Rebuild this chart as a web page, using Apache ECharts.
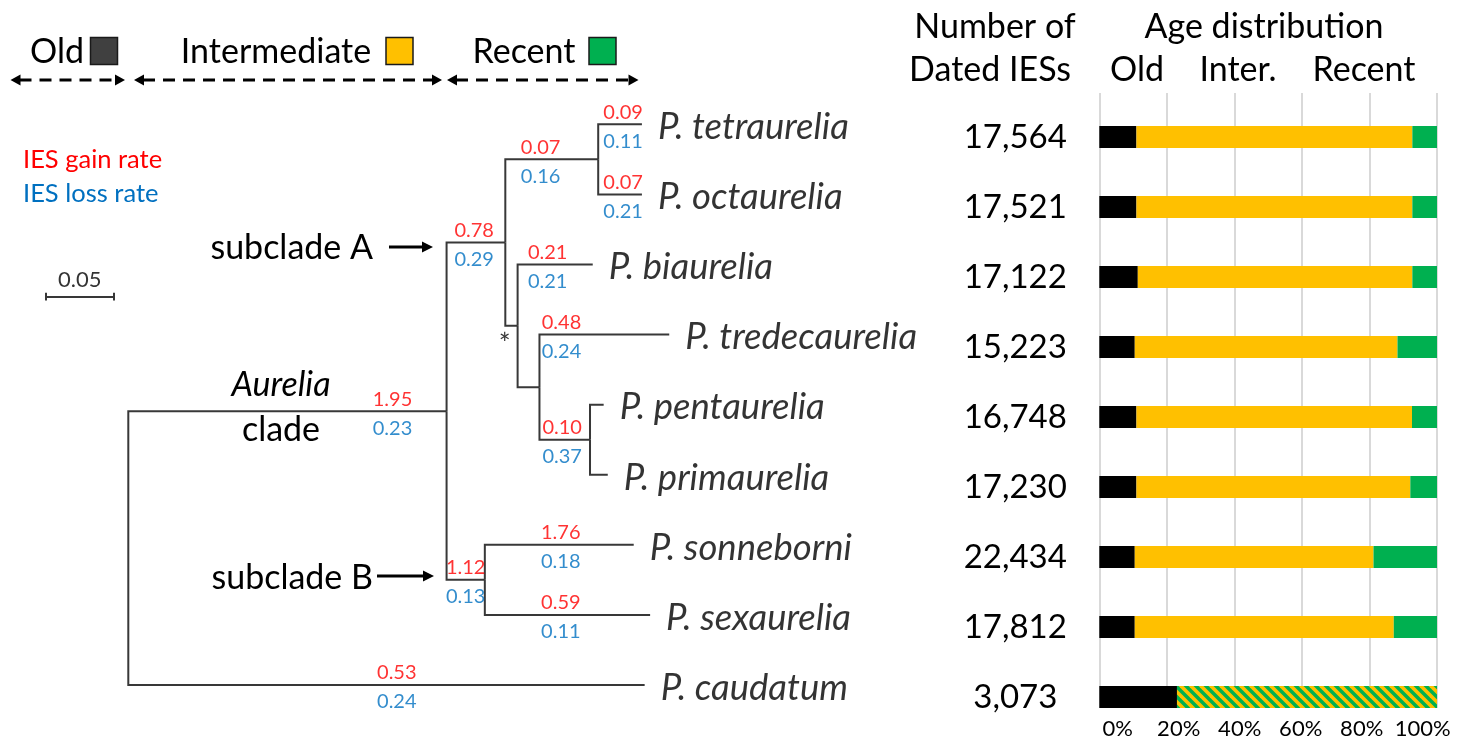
<!DOCTYPE html>
<html><head><meta charset="utf-8">
<script src="https://cdn.jsdelivr.net/npm/echarts@6.0.0/dist/echarts.min.js"></script>
<style>html,body{margin:0;padding:0;background:#fff}#c{width:1468px;height:740px}</style>
</head><body><div id="c"></div><script>
// ---------------- DATA ----------------
const speciesOrder = ['P. tetraurelia','P. octaurelia','P. biaurelia','P. tredecaurelia','P. pentaurelia','P. primaurelia','P. sonneborni','P. sexaurelia','P. caudatum'];
const datedIES = ['17,564','17,521','17,122','15,223','16,748','17,230','22,434','17,812','3,073'];
const oldPct    = [11.0, 11.0, 11.4, 10.5, 11.0, 11.0, 10.5, 10.5, 23.0];
const interPct  = [81.7, 81.7, 81.3, 77.8, 81.6, 81.1, 70.7, 76.7, 0];
const recentPct = [7.3, 7.3, 7.3, 11.7, 7.4, 7.9, 18.8, 12.8, 0];
const unresolvedPct = [0, 0, 0, 0, 0, 0, 0, 0, 77.0];
const pctTicks = ['0%','20%','40%','60%','80%','100%'];

const treeNodes  = ['root','Aurelia clade','subclade A','tetra+octa','P. tetraurelia','P. octaurelia','node *','P. biaurelia','tredec+penta+prim','P. tredecaurelia','penta+prim','P. pentaurelia','P. primaurelia','subclade B','P. sonneborni','P. sexaurelia','P. caudatum'];
const treeParent = [-1, 0, 1, 2, 3, 3, 2, 6, 6, 8, 8, 10, 10, 1, 13, 13, 0];
const branchLength = [0, 0.233, 0.043, 0.068, 0.032, 0.032, 0.009, 0.055, 0.016, 0.095, 0.037, 0.010, 0.013, 0.028, 0.109, 0.121, 0.378];
const gainRate = [null, 1.95, 0.78, 0.07, 0.09, 0.07, null, 0.21, null, 0.48, 0.10, null, null, 1.12, 1.76, 0.59, 0.53];
const lossRate = [null, 0.23, 0.29, 0.16, 0.11, 0.21, null, 0.21, null, 0.24, 0.37, null, null, 0.13, 0.18, 0.11, 0.24];
const scaleBarLength = 0.05;

// ---------------- LAYOUT (not data) ----------------
const labelAt = [0, 0.83, 0.47, 0.38, 0.57, 0.57, 0, 0.40, 0, 0.17, 0.45, 0, 0, 0.50, 0.51, 0.46, 0.52];
const PX_PER_UNIT = 1366, ROOT_X = 128.3, TREE_MIN = -0.09, TREE_MAX = 0.5;
const FONT = 'Lato, "Open Sans", sans-serif';
const RED = '#FF0000', BLUE = '#0070C0';

// ---------------- TREE GEOMETRY ----------------
const n = treeNodes.length;
const depth = new Array(n).fill(0);
for (let i = 1; i < n; i++) depth[i] = depth[treeParent[i]] + branchLength[i];
const children = treeNodes.map(() => []);
for (let i = 1; i < n; i++) children[treeParent[i]].push(i);
const ypos = new Array(n);
for (let i = n - 1; i >= 0; i--) {
  if (children[i].length === 0) ypos[i] = speciesOrder.indexOf(treeNodes[i]);
  else { const ys = children[i].map(c => ypos[c]); ypos[i] = (Math.min(...ys) + Math.max(...ys)) / 2; }
}
const branchLines = [];
for (let i = 1; i < n; i++) {
  const p = treeParent[i];
  branchLines.push({coords: [[depth[p], ypos[p]], [depth[p], ypos[i]], [depth[i], ypos[i]]]});
}
const gainPts = [], lossPts = [], leafPts = [];
for (let i = 1; i < n; i++) {
  const p = treeParent[i];
  const x = depth[p] + labelAt[i] * (depth[i] - depth[p]);
  if (gainRate[i] != null) gainPts.push({value: [x, ypos[i]], label: {formatter: gainRate[i].toFixed(2)}});
  if (lossRate[i] != null) lossPts.push({value: [x, ypos[i]], label: {formatter: lossRate[i].toFixed(2)}});
  if (children[i].length === 0) leafPts.push({value: [depth[i], ypos[i]], label: {formatter: treeNodes[i]}});
}
// scale bar
const sbX0 = -0.0605, sbY = 2.46, sbTick = 0.055;
const scaleLines = [
  {coords: [[sbX0, sbY], [sbX0 + scaleBarLength, sbY]]},
  {coords: [[sbX0, sbY - sbTick], [sbX0, sbY + sbTick]]},
  {coords: [[sbX0 + scaleBarLength, sbY - sbTick], [sbX0 + scaleBarLength, sbY + sbTick]]}
];

// ---------------- HATCH PATTERN ----------------
function makeHatch() {
  const c = document.createElement('canvas'); c.width = 10; c.height = 10;
  const g = c.getContext('2d');
  g.fillStyle = '#FFC000'; g.fillRect(0, 0, 10, 10);
  g.strokeStyle = '#00B050'; g.lineWidth = 3.5;
  for (const o of [-10, 0, 10]) { g.beginPath(); g.moveTo(o - 2, -2); g.lineTo(o + 12, 12); g.stroke(); }
  return c;
}

// ---------------- GRAPHICS ----------------
const G = [];
function txt(x, y, text, opt) {
  G.push({type: 'text', x: x, y: y, z: 10, style: Object.assign({text: text, fontSize: 34, fontFamily: FONT, fill: '#000',
    align: 'center', verticalAlign: 'middle', textAlign: 'center', textVerticalAlign: 'middle'}, opt || {})});
}
function sq(x, y, fill) {
  G.push({type: 'rect', shape: {x: x, y: y, width: 27, height: 27}, style: {fill: fill, stroke: '#1a1a1a', lineWidth: 1.5}});
}
function head(x, y, dir, len, half) {
  G.push({type: 'polygon', shape: {points: [[x, y], [x - dir * len, y - half], [x - dir * len, y + half]]}, style: {fill: '#000'}});
}
function dashArrow(x1, x2, y) {
  G.push({type: 'line', shape: {x1: x1 + 9, y1: y, x2: x2 - 9, y2: y}, style: {stroke: '#000', lineWidth: 3, lineDash: [12, 8]}});
  head(x1, y, -1, 10, 5.5); head(x2, y, 1, 10, 5.5);
}
function solidArrow(x1, x2, y) {
  G.push({type: 'line', shape: {x1: x1, y1: y, x2: x2 - 8, y2: y}, style: {stroke: '#000', lineWidth: 3}});
  head(x2, y, 1, 11, 5.5);
}
// top legend
txt(57, 52, 'Old'); sq(90.5, 37.5, '#404040');
txt(276, 52, 'Intermediate'); sq(386, 37.5, '#FFC000');
txt(524, 52, 'Recent'); sq(589, 37.5, '#00B050');
dashArrow(10.5, 125, 80); dashArrow(134, 442, 80); dashArrow(447, 638.5, 80);
// rate legend
txt(23, 160, 'IES gain rate', {fontSize: 25.5, fill: RED, align: 'left', textAlign: 'left'});
txt(23, 194, 'IES loss rate', {fontSize: 25.5, fill: BLUE, align: 'left', textAlign: 'left'});
// clade labels
txt(373, 248, 'subclade A', {align: 'right', textAlign: 'right'}); solidArrow(389, 433, 247);
txt(373, 578, 'subclade B', {align: 'right', textAlign: 'right'}); solidArrow(377, 434, 576);
txt(281, 385, 'Aurelia', {fontStyle: 'italic'});
txt(281, 430, 'clade');
// right headers
txt(995, 27, 'Number of'); txt(990, 70, 'Dated IESs');
txt(1264, 27, 'Age distribution');
txt(1137, 70, 'Old'); txt(1238, 70, 'Inter.'); txt(1364, 70, 'Recent');

// ---------------- CHART ----------------
const chart = echarts.init(document.getElementById('c'), null, {renderer: 'canvas', width: 1468, height: 740});
const hidden = {show: false};
const option = {
  backgroundColor: '#fff',
  animation: false,
  textStyle: {fontFamily: FONT},
  grid: [
    {left: 1099.3, top: 102, width: 337.7, height: 630},
    {left: 1099.3, top: 93, width: 337.7, height: 615},
    {left: 1117.7, top: 93, width: 305, height: 615},
    {left: ROOT_X + TREE_MIN * PX_PER_UNIT, top: 124.3, width: (TREE_MAX - TREE_MIN) * PX_PER_UNIT, height: 560.7}
  ],
  xAxis: [
    {gridIndex: 0, type: 'value', min: 0, max: 100, show: false},
    {gridIndex: 1, type: 'value', min: 0, max: 100, interval: 20, axisLine: hidden, axisTick: hidden, axisLabel: hidden,
      splitLine: {show: true, lineStyle: {color: '#D9D9D9', width: 2}}},
    {gridIndex: 2, type: 'value', min: 0, max: 100, interval: 20, axisLine: hidden, axisTick: hidden, splitLine: hidden,
      axisLabel: {show: true, margin: 11, fontSize: 22, color: '#000', fontFamily: FONT, formatter: (v, i) => pctTicks[i]}},
    {gridIndex: 3, type: 'value', min: TREE_MIN, max: TREE_MAX, show: false}
  ],
  yAxis: [
    {gridIndex: 0, type: 'category', inverse: true, data: datedIES, axisLine: hidden, axisTick: hidden, splitLine: hidden,
      axisLabel: {show: true, margin: 84, fontSize: 33, color: '#000', fontFamily: FONT, align: 'center', padding: [0, 0, 8, 0]}},
    {gridIndex: 1, type: 'value', show: false},
    {gridIndex: 2, type: 'value', show: false},
    {gridIndex: 3, type: 'value', min: 0, max: 8, inverse: true, show: false}
  ],
  series: [
    {type: 'bar', name: 'Old', stack: 'age', xAxisIndex: 0, yAxisIndex: 0, barWidth: 22, data: oldPct, itemStyle: {color: '#000000'}},
    {type: 'bar', name: 'Intermediate', stack: 'age', xAxisIndex: 0, yAxisIndex: 0, barWidth: 22, data: interPct, itemStyle: {color: '#FFC000'}},
    {type: 'bar', name: 'Recent', stack: 'age', xAxisIndex: 0, yAxisIndex: 0, barWidth: 22, data: recentPct, itemStyle: {color: '#00B050'}},
    {type: 'bar', name: 'Inter./Recent', stack: 'age', xAxisIndex: 0, yAxisIndex: 0, barWidth: 22, data: unresolvedPct,
      itemStyle: {color: {image: makeHatch(), repeat: 'repeat'}}},
    {type: 'lines', coordinateSystem: 'cartesian2d', xAxisIndex: 3, yAxisIndex: 3, polyline: true, clip: false, silent: true,
      data: branchLines, lineStyle: {color: '#383838', width: 2, opacity: 1}},
    {type: 'lines', coordinateSystem: 'cartesian2d', xAxisIndex: 3, yAxisIndex: 3, polyline: false, clip: false, silent: true,
      data: scaleLines, lineStyle: {color: '#383838', width: 2, opacity: 1}},
    {type: 'scatter', xAxisIndex: 3, yAxisIndex: 3, symbolSize: 0, clip: false, silent: true,
      data: [{value: [sbX0 + scaleBarLength / 2, sbY], label: {formatter: scaleBarLength.toFixed(2)}}],
      label: {show: true, position: 'top', distance: 6, fontSize: 22, color: '#000', fontFamily: FONT}},
    {type: 'scatter', xAxisIndex: 3, yAxisIndex: 3, symbolSize: 0, clip: false, silent: true, data: gainPts,
      label: {show: true, position: 'top', distance: 2, fontSize: 20, color: RED, fontFamily: FONT}},
    {type: 'scatter', xAxisIndex: 3, yAxisIndex: 3, symbolSize: 0, clip: false, silent: true, data: lossPts,
      label: {show: true, position: 'bottom', distance: 7, fontSize: 20, color: BLUE, fontFamily: FONT}},
    {type: 'scatter', xAxisIndex: 3, yAxisIndex: 3, symbolSize: 0, clip: false, silent: true, data: leafPts,
      label: {show: true, position: 'right', distance: 16, offset: [0, 3], fontSize: 36.5, fontStyle: 'italic', color: '#000', fontFamily: FONT}},
    {type: 'scatter', xAxisIndex: 3, yAxisIndex: 3, symbolSize: 0, clip: false, silent: true,
      data: [{value: [depth[6], ypos[6]], label: {formatter: '*'}}],
      label: {show: true, position: 'inside', offset: [-13, 19], fontSize: 28, color: '#000', fontFamily: FONT}}
  ],
  graphic: G
};
chart.setOption(option);
</script></body></html>
